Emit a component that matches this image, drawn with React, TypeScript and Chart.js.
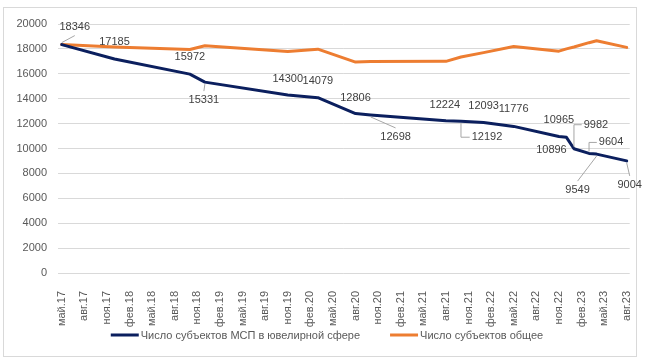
import React, { useEffect, useRef } from 'react';
import { Chart, registerables } from 'chart.js';

Chart.register(...registerables);

// Report dates (year-month) of each observation
const reportDates = [
  '2017-05', '2017-12', '2018-10', '2018-12', '2019-11', '2020-03', '2020-08', '2020-10',
  '2021-08', '2021-10', '2022-01', '2022-05', '2022-11', '2022-12', '2023-01', '2023-03',
  '2023-04', '2023-08',
];
const jewelrySme = [
  18346, 17185, 15972, 15331, 14300, 14079, 12806, 12698, 12224, 12192, 12093, 11776, 10965,
  10896, 9982, 9604, 9549, 9004,
];
const totalSubjects = [
  18346, 18150, 17950, 18250, 17800, 17980, 16940, 16990, 17000, 17350, 17700, 18200, 17820,
  18000, 18150, 18500, 18650, 18120,
];
const tickLabels = [
  'май.17', 'авг.17', 'ноя.17', 'фев.18', 'май.18', 'авг.18', 'ноя.18', 'фев.19', 'май.19',
  'авг.19', 'ноя.19', 'фев.20', 'май.20', 'авг.20', 'ноя.20', 'фев.21', 'май.21', 'авг.21',
  'ноя.21', 'фев.22', 'май.22', 'авг.22', 'ноя.22', 'фев.23', 'май.23', 'авг.23',
];
const seriesNames = ['Число субъектов МСП в ювелирной сфере', 'Число субъектов общее'];

// Label placement (pixel offsets from the point) and leader style for each data label
const labelPlacement: { dx: number; dy: number; leader: 'none' | 'line' | 'elbow' }[] = [
  { dx: 13, dy: -18, leader: 'line' },
  { dx: 0, dy: -17, leader: 'none' },
  { dx: 0, dy: -17, leader: 'none' },
  { dx: -1, dy: 18, leader: 'line' },
  { dx: 0, dy: -16, leader: 'none' },
  { dx: 0, dy: -17, leader: 'none' },
  { dx: 0, dy: -16, leader: 'none' },
  { dx: 25, dy: 22, leader: 'line' },
  { dx: -1, dy: -16, leader: 'none' },
  { dx: 26, dy: 16, leader: 'elbow' },
  { dx: 0, dy: -16, leader: 'none' },
  { dx: 0, dy: -17, leader: 'none' },
  { dx: 0, dy: -17, leader: 'none' },
  { dx: -15, dy: 13, leader: 'none' },
  { dx: 22, dy: -24, leader: 'elbow' },
  { dx: 22, dy: -11, leader: 'elbow' },
  { dx: -19, dy: 36, leader: 'line' },
  { dx: 3, dy: 24, leader: 'line' },
];

const FONT = "'Liberation Sans', Arial, sans-serif";
const NAVY = '#0b1f5e';
const ORANGE = '#ed7d31';

const monthIndex = (d: string) => {
  const [y, m] = d.split('-').map(Number);
  return (y - 2017) * 12 + (m - 5);
};

const dataLabelPlugin = {
  id: 'dataLabels',
  afterDatasetsDraw(chart: any) {
    const ctx = chart.ctx;
    const meta = chart.getDatasetMeta(0);
    ctx.save();
    ctx.font = `11px ${FONT}`;
    ctx.textAlign = 'center';
    ctx.textBaseline = 'middle';
    meta.data.forEach((pt: any, i: number) => {
      const p = labelPlacement[i];
      const text = String(jewelrySme[i]);
      const w = ctx.measureText(text).width;
      const lx = pt.x + p.dx;
      const ly = pt.y + p.dy;
      ctx.strokeStyle = '#a6a6a6';
      ctx.lineWidth = 1;
      if (p.leader === 'line') {
        const below = p.dy > 0;
        ctx.beginPath();
        ctx.moveTo(pt.x, pt.y + (below ? 2 : -2));
        ctx.lineTo(lx, below ? ly - 9 : ly + 9);
        ctx.stroke();
      } else if (p.leader === 'elbow') {
        const below = p.dy > 0;
        ctx.beginPath();
        ctx.moveTo(pt.x, pt.y + (below ? 2 : -2));
        ctx.lineTo(pt.x, ly);
        ctx.lineTo(lx - w / 2 - 2, ly);
        ctx.stroke();
      }
      ctx.fillStyle = '#404040';
      ctx.fillText(text, lx, ly);
    });
    ctx.restore();
  },
};

const legendPlugin = {
  id: 'customLegend',
  afterDraw(chart: any) {
    const ctx = chart.ctx;
    ctx.save();
    ctx.font = `11px ${FONT}`;
    ctx.textBaseline = 'middle';
    ctx.textAlign = 'left';
    const sample = 28;
    const gap = 2;
    const itemGap = 30;
    const items = chart.data.datasets.map((ds: any) => ({
      label: ds.label,
      color: ds.borderColor,
      w: ctx.measureText(ds.label).width,
    }));
    const total =
      items.reduce((s: number, it: any) => s + sample + gap + it.w, 0) + itemGap * (items.length - 1);
    let x = 327 - total / 2;
    const y = 335;
    items.forEach((it: any) => {
      ctx.strokeStyle = it.color;
      ctx.lineWidth = 3;
      ctx.beginPath();
      ctx.moveTo(x, y);
      ctx.lineTo(x + sample, y);
      ctx.stroke();
      ctx.fillStyle = '#595959';
      ctx.fillText(it.label, x + sample + gap, y + 1);
      x += sample + gap + it.w + itemGap;
    });
    ctx.restore();
  },
};

export default function App() {
  const ref = useRef<HTMLCanvasElement | null>(null);

  useEffect(() => {
    if (!ref.current) return;
    const xs = reportDates.map(monthIndex);
    const chart = new Chart(ref.current, {
      type: 'line',
      data: {
        datasets: [
          {
            label: seriesNames[0],
            data: xs.map((x, i) => ({ x, y: jewelrySme[i] })),
            borderColor: NAVY,
            backgroundColor: NAVY,
            borderWidth: 3,
            pointRadius: 0,
            tension: 0,
            borderJoinStyle: 'round',
            borderCapStyle: 'round',
          },
          {
            label: seriesNames[1],
            data: xs.map((x, i) => ({ x, y: totalSubjects[i] })),
            borderColor: ORANGE,
            backgroundColor: ORANGE,
            borderWidth: 3,
            pointRadius: 0,
            tension: 0,
            borderJoinStyle: 'round',
            borderCapStyle: 'round',
          },
        ],
      },
      options: {
        responsive: false,
        animation: false,
        layout: { padding: { left: 0, right: 20, top: 24, bottom: 0 } },
        plugins: {
          legend: { display: false },
          tooltip: { enabled: false },
        },
        scales: {
          x: {
            type: 'linear',
            min: -0.5,
            max: 75.4,
            grid: { display: false },
            border: { display: false },
            afterBuildTicks: (scale: any) => {
              scale.ticks = tickLabels.map((_, i) => ({ value: i * 3 }));
            },
            afterFit: (scale: any) => {
              scale.height = 91;
            },
            ticks: {
              autoSkip: false,
              minRotation: 90,
              maxRotation: 90,
              padding: 10,
              color: '#595959',
              font: { family: FONT, size: 11 },
              callback: (v: any) => tickLabels[Math.round(Number(v) / 3)] ?? '',
            },
          },
          y: {
            min: 0,
            max: 20000,
            grid: { color: '#d9d9d9', drawTicks: false, lineWidth: 1 },
            border: { display: false },
            afterFit: (scale: any) => {
              scale.width = 58;
            },
            ticks: {
              stepSize: 2000,
              padding: 11,
              color: '#595959',
              font: { family: FONT, size: 11 },
              callback: (v: any) => String(v),
            },
          },
        },
      },
      plugins: [dataLabelPlugin, legendPlugin],
    } as any);
    return () => chart.destroy();
  }, []);

  return (
    <div style={{ position: 'absolute', left: 0, top: 0, width: 650, height: 364, background: '#fff' }}>
      <div
        style={{
          position: 'absolute',
          left: 3,
          top: 7,
          width: 634,
          height: 350,
          border: '1px solid #d9d9d9',
          boxSizing: 'border-box',
        }}
      />
      <canvas ref={ref} width={650} height={364} style={{ position: 'absolute', left: 0, top: 0, display: 'block' }} />
    </div>
  );
}
